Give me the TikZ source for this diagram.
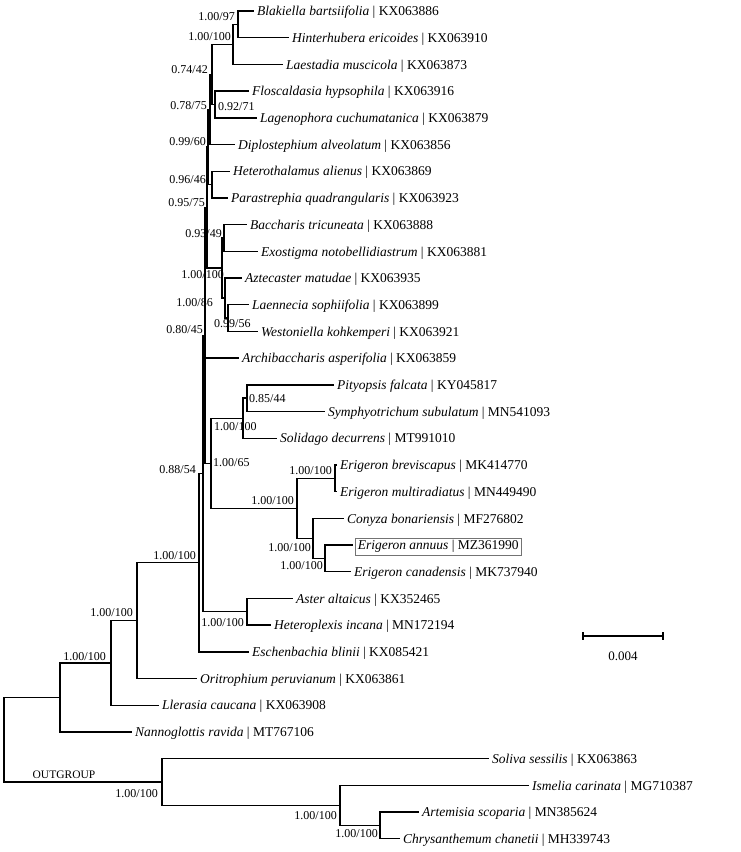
\documentclass[tikz,border=0pt]{standalone}
\usepackage{fontspec}
\setmainfont{Liberation Serif}
\begin{document}
\begin{tikzpicture}[x=1pt,y=-1pt,
  br/.style={line width=1.4pt, black, line cap=rect},
  leaf/.style={anchor=base west, inner sep=0pt, xshift=4pt, yshift=-4.7pt, font=\fontsize{13.5}{15}\selectfont},
  boxleaf/.style={anchor=base west, inner sep=2.5pt, xshift=3pt, yshift=-4.7pt, draw=black!55, line width=0.6pt, font=\fontsize{13.5}{15}\selectfont},
  sup/.style={inner sep=0pt, font=\fontsize{12}{14}\selectfont},
]
\useasboundingbox (0,0) rectangle (740,852);

% internal nodes
\coordinate (root) at (4,739.7);
\coordinate (ing) at (60,697.4);
\coordinate (nA) at (111,662.9);
\coordinate (nB) at (137,620.6);
\coordinate (nC) at (199,562.7);
\coordinate (nD) at (203,473.6);
\coordinate (nE) at (205,335.4);
\coordinate (nN4) at (207,207.5);
\coordinate (nN3) at (208,147);
\coordinate (nN2) at (210,109.5);
\coordinate (nN1) at (212,74.4);
\coordinate (nBHL) at (233,44.4);
\coordinate (nBH) at (238,24.35);
\coordinate (nFL) at (215,104.45);
\coordinate (nHP) at (212,184.55);
\coordinate (nX) at (222,268);
\coordinate (nBE) at (224,237.95);
\coordinate (nAZ) at (225,298.0);
\coordinate (nLW) at (228,318.05);
\coordinate (nF) at (211,463.2);
\coordinate (nSol) at (243,418.2);
\coordinate (nPS) at (247,398.15);
\coordinate (nErig) at (297,508.3);
\coordinate (nEB) at (335,478.25);
\coordinate (nCA) at (313,538.3);
\coordinate (nAC) at (325,558.35);
\coordinate (nAst) at (247,611.75);
\coordinate (nOut) at (162,781.95);
\coordinate (nIsm) at (340,805.3);
\coordinate (nArt) at (380,825.35);

% leaf tips
\coordinate (t1) at (253,11.0);
\coordinate (t2) at (288,37.7);
\coordinate (t3) at (282,64.4);
\coordinate (t4) at (248,91.1);
\coordinate (t5) at (256,117.8);
\coordinate (t6) at (234,144.5);
\coordinate (t7) at (229,171.2);
\coordinate (t8) at (227,197.9);
\coordinate (t9) at (246,224.6);
\coordinate (t10) at (257,251.3);
\coordinate (t11) at (241,278.0);
\coordinate (t12) at (248,304.7);
\coordinate (t13) at (257,331.4);
\coordinate (t14) at (238,358.1);
\coordinate (t15) at (333,384.8);
\coordinate (t16) at (324,411.5);
\coordinate (t17) at (276,438.2);
\coordinate (t18) at (336,464.9);
\coordinate (t19) at (336,491.6);
\coordinate (t20) at (343,518.3);
\coordinate (t21) at (352,545.0);
\coordinate (t22) at (350,571.7);
\coordinate (t23) at (292,598.4);
\coordinate (t24) at (270,625.1);
\coordinate (t25) at (248,651.8);
\coordinate (t26) at (196,678.5);
\coordinate (t27) at (158,705.2);
\coordinate (t28) at (131,731.9);
\coordinate (t29) at (488,758.6);
\coordinate (t30) at (528,785.3);
\coordinate (t31) at (418,812.0);
\coordinate (t32) at (399,838.7);

% branches
\draw[br] (root) |- (ing);
\draw[br] (root) |- (nOut);
\draw[br] (ing) |- (nA);
\draw[br] (ing) |- (t28);
\draw[br] (nA) |- (nB);
\draw[br] (nA) |- (t27);
\draw[br] (nB) |- (nC);
\draw[br] (nB) |- (t26);
\draw[br] (nC) |- (nD);
\draw[br] (nC) |- (t25);
\draw[br] (nD) |- (nE);
\draw[br] (nD) |- (nAst);
\draw[br] (nAst) |- (t23);
\draw[br] (nAst) |- (t24);
\draw[br] (nE) |- (nN4);
\draw[br] (nE) |- (t14);
\draw[br] (nE) |- (nF);
\draw[br] (nN4) |- (nN3);
\draw[br] (nN4) |- (nX);
\draw[br] (nN3) |- (nN2);
\draw[br] (nN3) |- (nHP);
\draw[br] (nN2) |- (nN1);
\draw[br] (nN2) |- (t6);
\draw[br] (nN1) |- (nBHL);
\draw[br] (nN1) |- (nFL);
\draw[br] (nBHL) |- (nBH);
\draw[br] (nBHL) |- (t3);
\draw[br] (nBH) |- (t1);
\draw[br] (nBH) |- (t2);
\draw[br] (nFL) |- (t4);
\draw[br] (nFL) |- (t5);
\draw[br] (nHP) |- (t7);
\draw[br] (nHP) |- (t8);
\draw[br] (nX) |- (nBE);
\draw[br] (nX) |- (nAZ);
\draw[br] (nBE) |- (t9);
\draw[br] (nBE) |- (t10);
\draw[br] (nAZ) |- (t11);
\draw[br] (nAZ) |- (nLW);
\draw[br] (nLW) |- (t12);
\draw[br] (nLW) |- (t13);
\draw[br] (nF) |- (nSol);
\draw[br] (nF) |- (nErig);
\draw[br] (nSol) |- (nPS);
\draw[br] (nSol) |- (t17);
\draw[br] (nPS) |- (t15);
\draw[br] (nPS) |- (t16);
\draw[br] (nErig) |- (nEB);
\draw[br] (nErig) |- (nCA);
\draw[br] (nEB) |- (t18);
\draw[br] (nEB) |- (t19);
\draw[br] (nCA) |- (t20);
\draw[br] (nCA) |- (nAC);
\draw[br] (nAC) |- (t21);
\draw[br] (nAC) |- (t22);
\draw[br] (nOut) |- (t29);
\draw[br] (nOut) |- (nIsm);
\draw[br] (nIsm) |- (t30);
\draw[br] (nIsm) |- (nArt);
\draw[br] (nArt) |- (t31);
\draw[br] (nArt) |- (t32);

% leaf labels
\node[leaf] (l1) at (t1) {\textit{Blakiella bartsiifolia} | KX063886};
\node[leaf] (l2) at (t2) {\textit{Hinterhubera ericoides} | KX063910};
\node[leaf] (l3) at (t3) {\textit{Laestadia muscicola} | KX063873};
\node[leaf] (l4) at (t4) {\textit{Floscaldasia hypsophila} | KX063916};
\node[leaf] (l5) at (t5) {\textit{Lagenophora cuchumatanica} | KX063879};
\node[leaf] (l6) at (t6) {\textit{Diplostephium alveolatum} | KX063856};
\node[leaf] (l7) at (t7) {\textit{Heterothalamus alienus} | KX063869};
\node[leaf] (l8) at (t8) {\textit{Parastrephia quadrangularis} | KX063923};
\node[leaf] (l9) at (t9) {\textit{Baccharis tricuneata} | KX063888};
\node[leaf] (l10) at (t10) {\textit{Exostigma notobellidiastrum} | KX063881};
\node[leaf] (l11) at (t11) {\textit{Aztecaster matudae} | KX063935};
\node[leaf] (l12) at (t12) {\textit{Laennecia sophiifolia} | KX063899};
\node[leaf] (l13) at (t13) {\textit{Westoniella kohkemperi} | KX063921};
\node[leaf] (l14) at (t14) {\textit{Archibaccharis asperifolia} | KX063859};
\node[leaf] (l15) at (t15) {\textit{Pityopsis falcata} | KY045817};
\node[leaf] (l16) at (t16) {\textit{Symphyotrichum subulatum} | MN541093};
\node[leaf] (l17) at (t17) {\textit{Solidago decurrens} | MT991010};
\node[leaf] (l18) at (t18) {\textit{Erigeron breviscapus} | MK414770};
\node[leaf] (l19) at (t19) {\textit{Erigeron multiradiatus} | MN449490};
\node[leaf] (l20) at (t20) {\textit{Conyza bonariensis} | MF276802};
\node[boxleaf] (l21) at (t21) {\textit{Erigeron annuus} | MZ361990};
\node[leaf] (l22) at (t22) {\textit{Erigeron canadensis} | MK737940};
\node[leaf] (l23) at (t23) {\textit{Aster altaicus} | KX352465};
\node[leaf] (l24) at (t24) {\textit{Heteroplexis incana} | MN172194};
\node[leaf] (l25) at (t25) {\textit{Eschenbachia blinii} | KX085421};
\node[leaf] (l26) at (t26) {\textit{Oritrophium peruvianum} | KX063861};
\node[leaf] (l27) at (t27) {\textit{Llerasia caucana} | KX063908};
\node[leaf] (l28) at (t28) {\textit{Nannoglottis ravida} | MT767106};
\node[leaf] (l29) at (t29) {\textit{Soliva sessilis} | KX063863};
\node[leaf] (l30) at (t30) {\textit{Ismelia carinata} | MG710387};
\node[leaf] (l31) at (t31) {\textit{Artemisia scoparia} | MN385624};
\node[leaf] (l32) at (t32) {\textit{Chrysanthemum chanetii} | MH339743};

% support values
\node[sup, anchor=east] (sBH) at (235,17) {1.00/97};
\node[sup, anchor=east] (sBHL) at (231,37) {1.00/100};
\node[sup, anchor=east] (sN1) at (208,70) {0.74/42};
\node[sup, anchor=east] (sN2) at (207,106) {0.78/75};
\node[sup, anchor=west] (sFL) at (218,107) {0.92/71};
\node[sup, anchor=east] (sN3) at (206,142) {0.99/60};
\node[sup, anchor=east] (sHP) at (206,180) {0.96/46};
\node[sup, anchor=east] (sN4) at (205,203) {0.95/75};
\node[sup, anchor=east] (sBE) at (222,234) {0.93/49};
\node[sup, anchor=east] (sX) at (224,275) {1.00/100};
\node[sup, anchor=east] (sAZ) at (213,303) {1.00/86};
\node[sup, anchor=west] (sLW) at (214,324) {0.99/56};
\node[sup, anchor=east] (sE) at (203,330) {0.80/45};
\node[sup, anchor=west] (sPS) at (249,399) {0.85/44};
\node[sup, anchor=west] (sSol) at (214,427) {1.00/100};
\node[sup, anchor=west] (sF) at (213,463) {1.00/65};
\node[sup, anchor=east] (sEB) at (332,471) {1.00/100};
\node[sup, anchor=east] (sErig) at (294,501) {1.00/100};
\node[sup, anchor=east] (sCA) at (311,548) {1.00/100};
\node[sup, anchor=east] (sAC) at (323,566) {1.00/100};
\node[sup, anchor=east] (sD) at (196,470) {0.88/54};
\node[sup, anchor=east] (sC) at (196,556) {1.00/100};
\node[sup, anchor=east] (sAst) at (244,623) {1.00/100};
\node[sup, anchor=east] (sB) at (133,613) {1.00/100};
\node[sup, anchor=east] (sA) at (106,657) {1.00/100};
\node[sup, anchor=east] (sOut) at (158,794) {1.00/100};
\node[sup, anchor=east] (sIsm) at (337,816) {1.00/100};
\node[sup, anchor=east] (sArt) at (378,834) {1.00/100};
\node[inner sep=0pt, font=\fontsize{11.5}{13}\selectfont] (og) at (64,775) {OUTGROUP};

% scale bar
\coordinate (sb1) at (583,636);
\coordinate (sb2) at (663,636);
\draw[line width=1.3pt] (sb1) -- (sb2);
\draw[line width=1.3pt] ([yshift=4pt]sb1) -- ([yshift=-4pt]sb1);
\draw[line width=1.3pt] ([yshift=4pt]sb2) -- ([yshift=-4pt]sb2);
\node[inner sep=0pt, font=\fontsize{13}{15}\selectfont] (sbl) at (623,656) {0.004};
\end{tikzpicture}
\end{document}
